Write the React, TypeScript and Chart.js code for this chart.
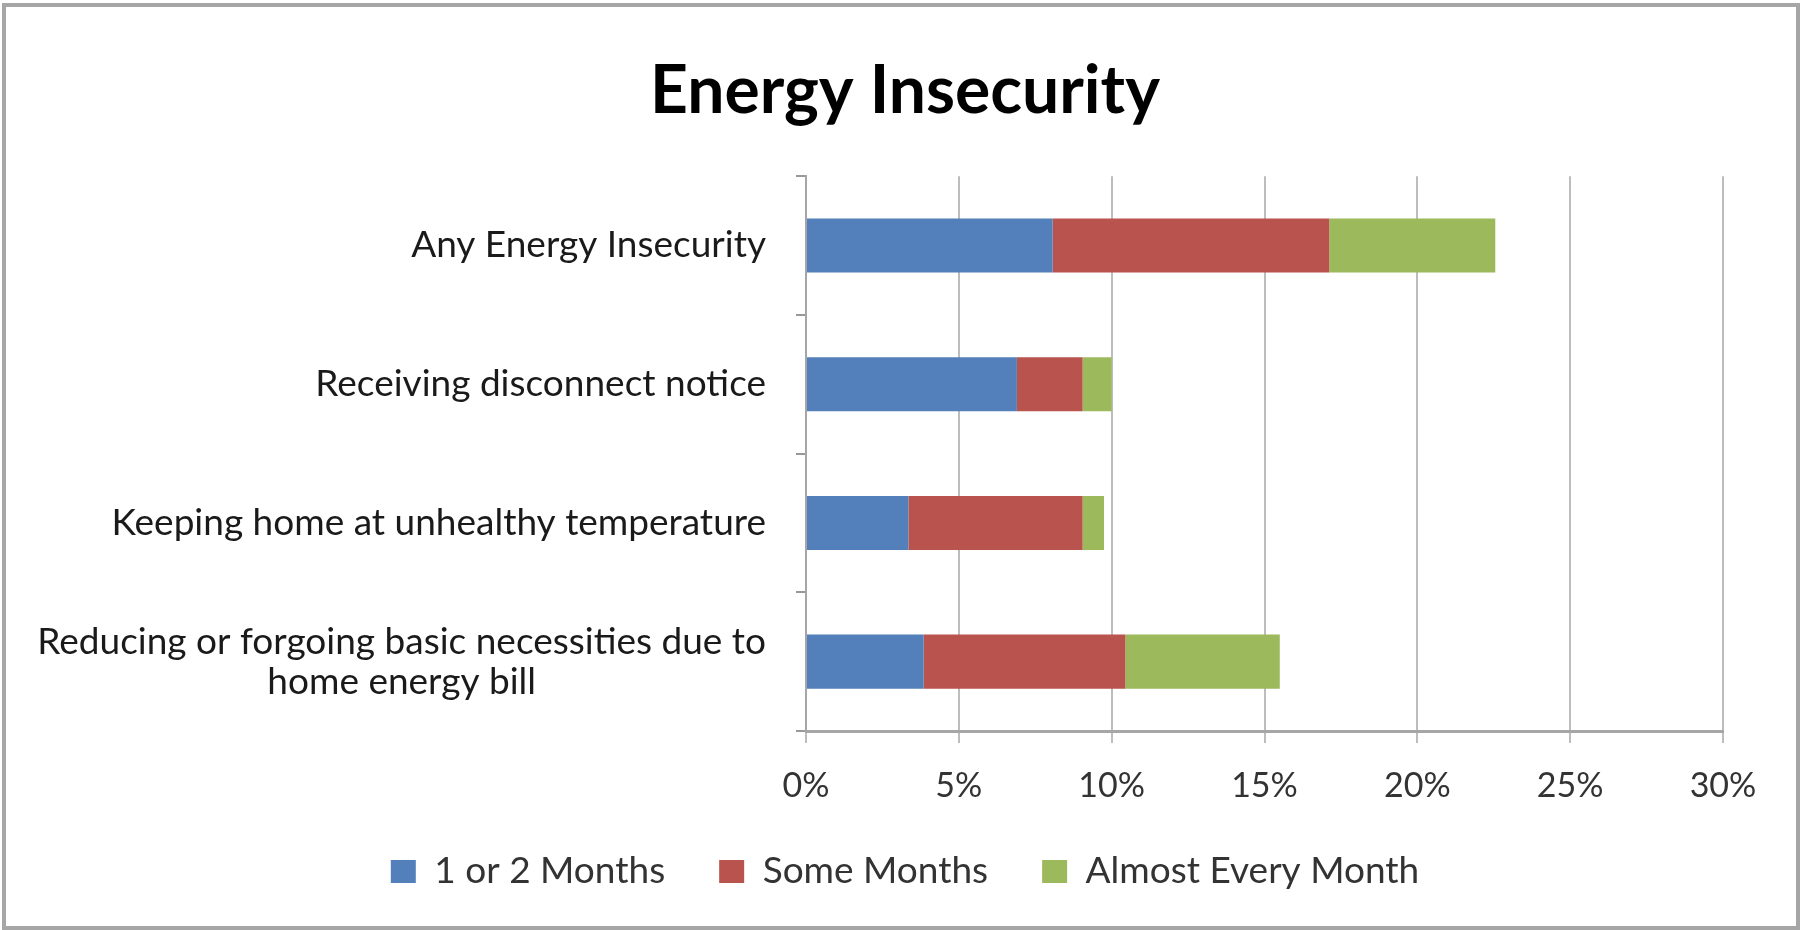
import React, { useEffect, useRef } from "react";
import { Chart, registerables } from "chart.js";

Chart.register(...registerables);

const categories: string[][] = [
  ["Any Energy Insecurity"],
  ["Receiving disconnect notice"],
  ["Keeping home at unhealthy temperature"],
  ["Reducing or forgoing basic necessities due to", "home energy bill"],
];
const seriesNames = ["1 or 2 Months", "Some Months", "Almost Every Month"];
const oneOrTwoMonths = [8.07, 6.9, 3.35, 3.85];
const someMonths = [9.05, 2.15, 5.7, 6.6];
const almostEveryMonth = [5.43, 0.95, 0.7, 5.05];
const xTicks = [0, 5, 10, 15, 20, 25, 30];

const colors = ["#5380BA", "#B8534E", "#9CBA5C"];
const FONT = "Lato, 'Open Sans', sans-serif";
const LEFT_PAD = 87;

const yLabelPlugin = {
  id: "yLabelPlugin",
  afterDraw(chart: any) {
    const scale = chart.scales.y;
    const ctx = chart.ctx;
    ctx.save();
    ctx.font = `37px ${FONT}`;
    ctx.fillStyle = "#1a1a1a";
    ctx.textAlign = "center";
    ctx.textBaseline = "middle";
    const lineH = 40;
    const rightEdge = scale.right - 40;
    categories.forEach((lines, i) => {
      const y = scale.getPixelForTick(i);
      const widest = Math.max(...lines.map((l) => ctx.measureText(l).width));
      const cx = rightEdge - widest / 2;
      const startY = y - ((lines.length - 1) * lineH) / 2;
      lines.forEach((l, j) => ctx.fillText(l, cx, startY + j * lineH));
    });
    ctx.restore();
  },
};

export default function App() {
  const ref = useRef<HTMLCanvasElement>(null);
  useEffect(() => {
    if (!ref.current) return;
    const chart = new Chart(ref.current, {
      type: "bar",
      data: {
        labels: categories.map((c) => c.join(" ")),
        datasets: [
          { label: seriesNames[0], data: oneOrTwoMonths, backgroundColor: colors[0] },
          { label: seriesNames[1], data: someMonths, backgroundColor: colors[1] },
          { label: seriesNames[2], data: almostEveryMonth, backgroundColor: colors[2] },
        ],
      },
      options: {
        indexAxis: "y",
        responsive: false,
        animation: false,
        events: [],
        layout: { padding: { left: LEFT_PAD, right: 78, top: 0, bottom: 30 } },
        datasets: { bar: { categoryPercentage: 1, barPercentage: 0.39 } },
        scales: {
          x: {
            stacked: true,
            min: 0,
            max: 30,
            afterBuildTicks: (scale: any) => {
              scale.ticks = xTicks.map((v) => ({ value: v }));
            },
            afterFit: (scale: any) => {
              scale.height = 68;
            },
            grid: { color: "#bdbdbd", lineWidth: 2, tickLength: 12, drawTicks: true },
            border: { color: "#a6a6a6", width: 3 },
            ticks: {
              color: "#333",
              padding: 23,
              font: { family: FONT, size: 34 },
              callback: (v: any) => `${v}%`,
            },
          },
          y: {
            stacked: true,
            afterFit: (scale: any) => {
              scale.width = 806 - LEFT_PAD;
            },
            grid: {
              offset: true,
              drawOnChartArea: false,
              drawTicks: true,
              tickLength: 10,
              color: "#999",
              lineWidth: 2,
            },
            border: { color: "#a6a6a6", width: 2 },
            ticks: { color: "rgba(0,0,0,0)", font: { family: FONT, size: 33 } },
          },
        },
        plugins: {
          title: {
            display: true,
            text: "Energy Insecurity",
            color: "#000",
            font: { family: FONT, size: 66, weight: "bold" },
            padding: { top: 52, bottom: 45 },
          },
          legend: {
            position: "bottom",
            labels: {
              boxWidth: 25,
              boxHeight: 23,
              padding: 54,
              color: "#333",
              font: { family: FONT, size: 37 },
            },
          },
          tooltip: { enabled: false },
        },
      },
      plugins: [yLabelPlugin],
    } as any);
    return () => chart.destroy();
  }, []);

  return (
    <div style={{ position: "absolute", left: 0, top: 0, width: 1801, height: 930, background: "#fff" }}>
      <canvas ref={ref} width={1801} height={930} style={{ position: "absolute", left: 0, top: 0, width: 1801, height: 930 }} />
      <div
        style={{
          position: "absolute",
          left: 2,
          top: 3,
          width: 1798,
          height: 927,
          border: "4px solid #a6a6a6",
          boxSizing: "border-box",
          pointerEvents: "none",
        }}
      />
    </div>
  );
}
